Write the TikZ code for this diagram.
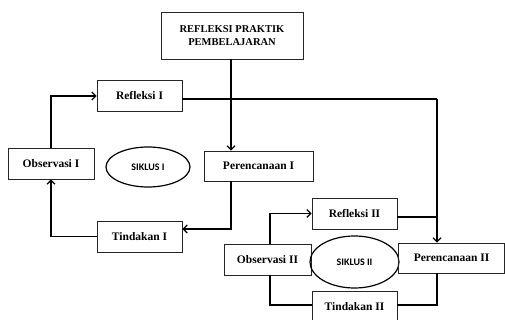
\documentclass[tikz,border=0pt]{standalone}
\usepackage{fontspec}
\setmainfont{Liberation Serif}
\newfontfamily\siklusfont{Carlito}
\usetikzlibrary{positioning,arrows.meta,shapes.geometric}

\begin{document}
\begin{tikzpicture}[
  x=1pt, y=-1pt,
  font=\fontsize{11.5}{13}\selectfont\bfseries,
  box/.style={draw=black!85, line width=0.8pt, align=center, inner sep=0pt,
              minimum width=85pt, minimum height=31pt},
  topbox/.style={box, minimum width=142pt, minimum height=47pt,
                 font=\fontsize{10.5}{12.5}\selectfont\bfseries},
  siklus/.style={draw, ellipse, line width=1.2pt, inner sep=0pt,
                 font=\siklusfont\fontsize{10}{11}\selectfont\bfseries},
  arr/.style ={-{Straight Barb[length=4pt,width=8pt]}, line width=1.2pt},
  line/.style={line width=1.2pt},
]
\useasboundingbox (0,0) rectangle (505,320);

\node[topbox] (praktik) at (232,35.5) {REFLEKSI PRAKTIK\\PEMBELAJARAN};

% siklus I
\node[box] (ref1) at (139.5,96) {Refleksi I};
\node[box, minimum width=86pt] (obs1) at (51,163.5) {Observasi I};
\node[siklus, minimum width=84pt, minimum height=40pt] (sik1) at (148,167) {SIKLUS I};
\node[box, minimum width=109pt, minimum height=30pt] (per1) at (258.5,166) {Perencanaan I};
\node[box] (tin1) at (139.5,236.5) {Tindakan I};

% siklus II
\node[box] (ref2) at (354.5,213.5) {Refleksi II};
\node[box, minimum width=87pt] (obs2) at (267.5,259.5) {Observasi II};
\node[siklus, minimum width=89pt, minimum height=52pt] (sik2) at (354.5,262) {SIKLUS II};
\node[box, minimum width=106pt, minimum height=30pt] (per2) at (451.5,258) {Perencanaan II};
\node[box] (tin2) at (354.5,306.5) {Tindakan II};

\coordinate (kanan) at (437,99);

\draw[arr] (praktik.south -| 231,0) -- (231,0 |- per1.north);
\draw[arr] (obs1.north) |- (ref1.west);
\draw[arr] (per1.south -| 231,0) |- ([yshift=7.5pt]tin1.east);
\draw[arr] (tin1.west) -| (obs1.south);
\draw[line] ([yshift=-3pt]ref1.east) -- (kanan);
\draw[arr] (kanan) -- (kanan |- per2.north);

\draw[arr] (obs2.north -| 270,0) |- (ref2.west);
\draw[line] ([yshift=-3.5pt]ref2.east) -- ([yshift=-3.5pt]ref2.east -| kanan);
\draw[line] (obs2.south -| 270,0) |- ([yshift=1.5pt]tin2.west);
\draw[line] ([yshift=1.5pt]tin2.east) -| (kanan |- per2.south);

\end{tikzpicture}
\end{document}
